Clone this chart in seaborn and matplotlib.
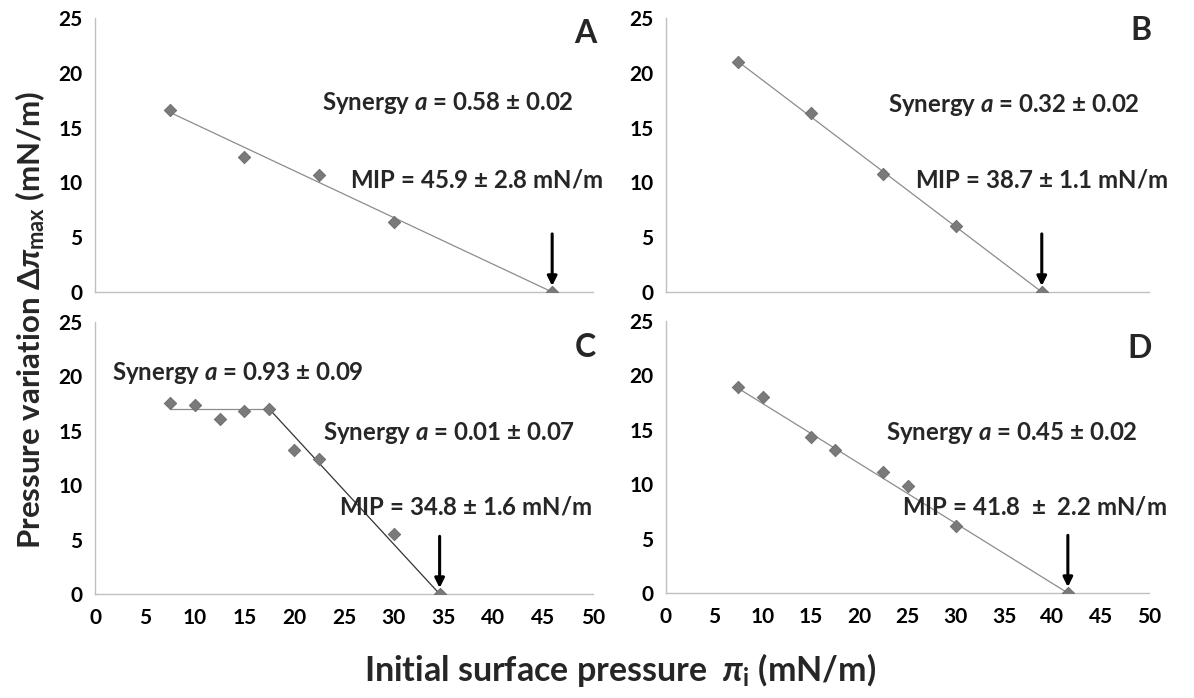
import matplotlib
matplotlib.use("Agg")
import matplotlib.pyplot as plt
import seaborn as sns
import pandas as pd

# ---------------- data ----------------
panels = ["A", "B", "C", "D"]

a_x = [7.5, 15, 22.5, 30, 45.9]
a_y = [16.6, 12.3, 10.7, 6.4, 0.0]
b_x = [7.5, 15, 22.5, 30, 38.9]
b_y = [21.0, 16.3, 10.8, 6.0, 0.0]
c_x = [7.5, 10, 12.5, 15, 17.5, 20, 22.5, 30, 34.6]
c_y = [17.6, 17.4, 16.1, 16.8, 17.0, 13.2, 12.4, 5.5, 0.0]
d_x = [7.5, 10, 15, 17.5, 22.5, 25, 30, 41.6]
d_y = [18.9, 18.0, 14.3, 13.1, 11.1, 9.8, 6.2, 0.0]

# fitted lines (segments)
a_fit_x = [7.5, 45.9]; a_fit_y = [16.4, 0.0]
b_fit_x = [7.5, 38.9]; b_fit_y = [21.0, 0.0]
c_fit1_x = [7.5, 17.5]; c_fit1_y = [17.0, 17.0]
c_fit2_x = [17.5, 34.6]; c_fit2_y = [17.0, 0.0]
d_fit_x = [7.5, 41.6]; d_fit_y = [18.8, 0.0]

arrow_x = [45.9, 38.9, 34.6, 41.6]

x_ticks = [0, 5, 10, 15, 20, 25, 30, 35, 40, 45, 50]
y_ticks = [0, 5, 10, 15, 20, 25]

# ---------------- style ----------------
sns.set_theme(style="white")
plt.rcParams["font.family"] = ["Lato", "DejaVu Sans"]
plt.rcParams["font.weight"] = "bold"
plt.rcParams["mathtext.fontset"] = "custom"
plt.rcParams["mathtext.rm"] = "Lato:bold"
plt.rcParams["mathtext.it"] = "Lato:bold:italic"
plt.rcParams["mathtext.bf"] = "Lato:bold"

fig = plt.figure(figsize=(11.94, 6.98), dpi=100)

W, H = 1194, 698
rects = {
    "A": (95, 18, 498, 274),
    "B": (666, 18, 483, 274),
    "C": (95, 322, 498, 272),
    "D": (666, 321, 483, 272),
}

point_color = "#7a7a7a"
line_color = "#8c8c8c"
axis_color = "#c0c0c0"

data = {
    "A": (a_x, a_y, [(a_fit_x, a_fit_y, line_color)]),
    "B": (b_x, b_y, [(b_fit_x, b_fit_y, line_color)]),
    "C": (c_x, c_y, [(c_fit1_x, c_fit1_y, line_color), (c_fit2_x, c_fit2_y, "#333333")]),
    "D": (d_x, d_y, [(d_fit_x, d_fit_y, line_color)]),
}

texts = {
    "A": [(22.8, 17.2, r"Synergy $\mathit{a}$ = 0.58 $\pm$ 0.02"),
          (25.6, 10.2, r"MIP = 45.9 $\pm$ 2.8 mN/m")],
    "B": [(23.0, 17.1, r"Synergy $\mathit{a}$ = 0.32 $\pm$ 0.02"),
          (25.8, 10.2, r"MIP = 38.7 $\pm$ 1.1 mN/m")],
    "C": [(1.7, 20.3, r"Synergy $\mathit{a}$ = 0.93 $\pm$ 0.09"),
          (22.9, 14.8, r"Synergy $\mathit{a}$ = 0.01 $\pm$ 0.07"),
          (24.5, 8.0, r"MIP = 34.8 $\pm$ 1.6 mN/m")],
    "D": [(22.8, 14.7, r"Synergy $\mathit{a}$ = 0.45 $\pm$ 0.02"),
          (24.4, 7.9, r"MIP = 41.8  $\pm$  2.2 mN/m")],
}
letter_y = {"A": 23.6, "B": 23.9, "C": 22.7, "D": 22.5}

for i, p in enumerate(panels):
    l, t, w, h = rects[p]
    ax = fig.add_axes([l / W, 1 - (t + h) / H, w / W, h / H])
    xs, ys, fits = data[p]
    for fx, fy, col in fits:
        sns.lineplot(x=fx, y=fy, ax=ax, color=col, lw=0.9, sort=False)
    df = pd.DataFrame({"x": xs, "y": ys})
    sns.scatterplot(data=df, x="x", y="y", ax=ax, marker="D", s=40,
                    color=point_color, edgecolor="#6a6a6a", linewidth=0.6, zorder=3)
    ax.annotate("", xy=(arrow_x[i], 0.55), xytext=(arrow_x[i], 5.3),
                arrowprops=dict(arrowstyle="-|>", color="black", lw=2.2,
                                mutation_scale=14, shrinkA=0, shrinkB=0))
    for tx, ty, s in texts[p]:
        ax.text(tx, ty, s, fontsize=17.3, fontweight="bold", va="center", ha="left",
                clip_on=False)
    ax.text(50.3, letter_y[p], p, fontsize=23, fontweight="bold", ha="right", va="center")

    ax.set_xlim(0, 50)
    ax.set_ylim(0, 25)
    ax.set_xticks(x_ticks)
    ax.set_yticks(y_ticks)
    ax.set_xlabel("")
    ax.set_ylabel("")
    for side in ["top", "right"]:
        ax.spines[side].set_visible(False)
    for side in ["left", "bottom"]:
        ax.spines[side].set_color(axis_color)
        ax.spines[side].set_linewidth(1.0)
    ax.tick_params(axis="both", direction="in", length=6, width=1, color=axis_color,
                   labelsize=15, labelcolor="black")
    ax.tick_params(axis="y", pad=9)
    ax.tick_params(axis="x", pad=10)
    if p in ("A", "B"):
        ax.tick_params(axis="x", labelbottom=False)
    for lab in ax.get_xticklabels() + ax.get_yticklabels():
        lab.set_fontweight("bold")
    ax.patch.set_alpha(0)

fig.text(30 / W, 1 - 320 / H, r"Pressure variation Δ$\pi_{\mathrm{max}}$ (mN/m)",
         rotation=90, fontsize=22.5, fontweight="bold", ha="center", va="center")
fig.text(620 / W, 1 - 670 / H, r"Initial surface pressure  $\pi_{\mathrm{i}}$ (mN/m)",
         fontsize=24.5, fontweight="bold", ha="center", va="center")

fig.savefig("out.png", dpi=100)
